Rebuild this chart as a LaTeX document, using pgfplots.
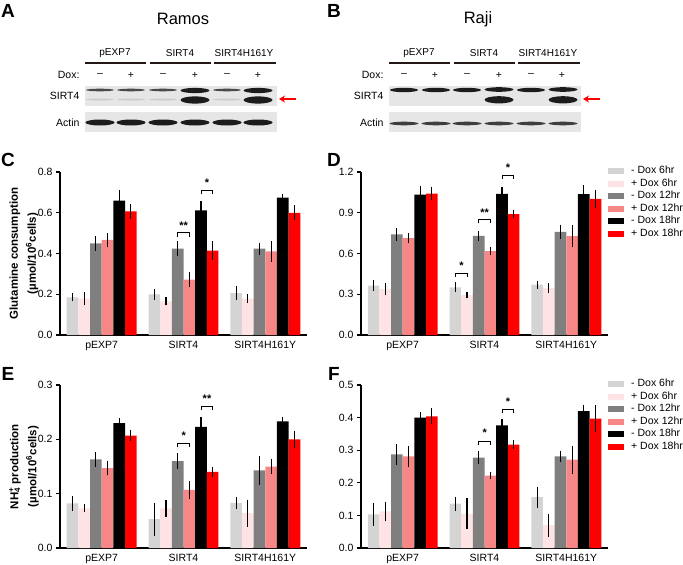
\documentclass[border=0pt]{standalone}
\usepackage{pgfplots}
\pgfplotsset{compat=1.18}
\usepackage{fontspec}
\setmainfont{Liberation Sans}
\usetikzlibrary{arrows.meta}

\definecolor{cA}{HTML}{D4D4D4}
\definecolor{cB}{HTML}{FDE3E3}
\definecolor{cC}{HTML}{7F7F7F}
\definecolor{cD}{HTML}{F78787}
\definecolor{cE}{HTML}{000000}
\definecolor{cF}{HTML}{FF0000}
\definecolor{blotbg}{HTML}{E6E6E6}
\definecolor{band}{HTML}{1C1C1C}
\definecolor{hdr}{HTML}{231815}

\newcommand{\fs}[1]{\fontsize{#1}{#1}\selectfont}

\tikzset{
 brk/.style={draw=black, line width=1.1pt},
 stars/.style={font=\bfseries\fs{11}, anchor=base, inner sep=0pt, yshift=-6pt},
}

\pgfplotsset{
 barpanel/.style={
  scale only axis, width=247pt, height=163pt,
  axis lines=left, axis line style={-, line width=1.1pt},
  xmin=-0.51, xmax=2.51, ymin=0,
  xtick={0,1,2}, xticklabels={pEXP7,SIRT4,SIRT4H161Y},
  x tick style={draw=none},
  tick align=outside, major tick length=4pt,
  y tick style={line width=1.1pt, black},
  tick label style={font=\fs{10.5}},
  xticklabel style={yshift=1pt},
  /pgf/number format/assume math mode=true,
  /pgf/number format/fixed, /pgf/number format/fixed zerofill, /pgf/number format/precision=1,
  ybar, bar width=0.1425,
  clip=false,
  every axis y label/.style={at={(axis description cs:-0.146,0.5)}, rotate=90, anchor=center},
  ylabel style={font=\bfseries\fontsize{11.5}{18}\selectfont, align=center},
  legend image code/.code={\path[##1, draw=none] (0pt,-3pt) rectangle (16pt,3pt);},
  legend style={font=\fs{10.5}, draw=none, fill=none, inner sep=0pt, row sep=0pt,
    nodes={inner sep=1pt, text height=8pt, text depth=2.5pt},
    /tikz/every odd column/.append style={column sep=6pt}},
  legend cell align=left,
 },
 errs/.style={/pgfplots/error bars/y dir=both, /pgfplots/error bars/y explicit,
   /pgfplots/error bars/error bar style={draw=black, line width=1.1pt},
   /pgfplots/error bars/error mark options={draw=black, line width=1.1pt, mark size=2.3pt}},
}

\begin{document}
\begin{tikzpicture}
\path[use as bounding box] (0,0) rectangle (683pt,-565pt);

% ---------------- blots ----------------
\begin{scope}[x=1pt, y=-1pt]
\node[font=\bfseries\fs{19}] at (8,11) {A};
\node[font=\bfseries\fs{19}] at (334,11) {B};
\node[font=\fs{16.5}] at (183,19) {Ramos};
\node[font=\fs{16.5}] at (478,19) {Raji};
\node[font=\bfseries\fs{19}] at (8,160) {C};
\node[font=\bfseries\fs{19}] at (334,160) {D};
\node[font=\bfseries\fs{19}] at (8,374) {E};
\node[font=\bfseries\fs{19}] at (334,374) {F};

\foreach \dx/\w in {0/A,304/B}{
 \begin{scope}[shift={(\dx,0)}]
  \node[font=\fs{10}] at (115,53) {pEXP7};
  \node[font=\fs{10}] at (180,53) {SIRT4};
  \node[font=\fs{10}] at (244,53) {SIRT4H161Y};
  \draw[hdr, line width=2.4pt] (85,63) -- (146,63);
  \draw[hdr, line width=2.4pt] (150,63) -- (211,63);
  \draw[hdr, line width=2.4pt] (214,63) -- (276,63);
  \node[font=\fs{10.5}, anchor=east] at (83,75) {Dox:};
  \foreach \lx/\s in {100/–,131/+,163/–,195/+,227/–,258/+}{
    \node[font=\fs{10.5}] at (\lx,75) {\s};
  }
  \fill[blotbg] (85,86) rectangle (277,106);
  \fill[blotbg] (85,112) rectangle (277,132);
  \node[font=\fs{10.5}, anchor=east] at (83,96) {SIRT4};
  \node[font=\fs{10.5}, anchor=east] at (83,123) {Actin};
  \draw[red, line width=1.3pt, -{Stealth[length=6pt, width=7pt]}] (296,99) -- (279,99);
 \end{scope}
}
% Ramos bands
\foreach \lx in {100,131,163,227}{
  \fill[band!80] (\lx,90) ellipse (14pt and 1.3pt);
  \fill[black!20] (\lx,99.5) ellipse (14pt and 1pt);
  \fill[band] (\lx,122.5) ellipse (14.5pt and 3pt);
}
\foreach \lx in {195,258}{
  \fill[band] (\lx,90.5) ellipse (14.5pt and 2.6pt);
  \fill[band] (\lx,100) ellipse (14.5pt and 3.6pt);
  \fill[band] (\lx,122.5) ellipse (14.5pt and 3pt);
}
% Raji bands
\foreach \lx in {404,436,467,531}{
  \fill[band] (\lx,90) ellipse (14pt and 2.2pt);
  \fill[band!85] (\lx,123.5) ellipse (14.5pt and 1.8pt);
}
\foreach \lx in {499,563}{
  \fill[band] (\lx,89.5) ellipse (14.5pt and 2.3pt);
  \fill[band] (\lx,99.8) ellipse (14.5pt and 3.6pt);
  \fill[band!85] (\lx,123.5) ellipse (14.5pt and 1.8pt);
}
\end{scope}

% ---------------- C ----------------
\begin{axis}[barpanel, at={(60pt,-335pt)}, anchor=south west,
  ymax=0.8, ytick={0,0.2,0.4,0.6,0.8},
  ylabel={Glutamine consumption\\(µmol/10\textsuperscript{6}cells)}]
\addplot[fill=cA, draw=none, bar shift=-0.35625, errs] table[x=x,y=y,y error=e]{
x y e
0 0.185 0.008
1 0.200 0.015
2 0.205 0.022
};
\addplot[fill=cB, draw=none, bar shift=-0.21375, errs] table[x=x,y=y,y error=e]{
x y e
0 0.178 0.020
1 0.165 0.008
2 0.178 0.010
};
\addplot[fill=cC, draw=none, bar shift=-0.07125, errs] table[x=x,y=y,y error=e]{
x y e
0 0.450 0.025
1 0.424 0.027
2 0.424 0.018
};
\addplot[fill=cD, draw=none, bar shift=0.07125, errs] table[x=x,y=y,y error=e]{
x y e
0 0.467 0.022
1 0.272 0.024
2 0.410 0.040
};
\addplot[fill=cE, draw=none, bar shift=0.21375, errs] table[x=x,y=y,y error=e]{
x y e
0 0.659 0.042
1 0.612 0.035
2 0.674 0.005
};
\addplot[fill=cF, draw=none, bar shift=0.35625, errs] table[x=x,y=y,y error=e]{
x y e
0 0.607 0.026
1 0.414 0.035
2 0.600 0.026
};
\draw[brk] (axis cs:0.93,0.48) -- (axis cs:0.93,0.503) -- (axis cs:1.075,0.503) -- (axis cs:1.075,0.48);
\node[stars] at (axis cs:1.0025,0.545) {**};
\draw[brk] (axis cs:1.215,0.69) -- (axis cs:1.215,0.708) -- (axis cs:1.36,0.708) -- (axis cs:1.36,0.69);
\node[stars] at (axis cs:1.2875,0.76) {*};
\end{axis}

% ---------------- D ----------------
\begin{axis}[barpanel, at={(361pt,-335pt)}, anchor=south west,
  ymax=1.2, ytick={0,0.3,0.6,0.9,1.2},
  legend style={at={(1.0,1.045)}, anchor=north west}]
\addplot[fill=cA, draw=none, bar shift=-0.35625, errs] table[x=x,y=y,y error=e]{
x y e
0 0.364 0.022
1 0.351 0.020
2 0.371 0.012
};
\addplot[fill=cB, draw=none, bar shift=-0.21375, errs] table[x=x,y=y,y error=e]{
x y e
0 0.337 0.028
1 0.293 0.006
2 0.347 0.018
};
\addplot[fill=cC, draw=none, bar shift=-0.07125, errs] table[x=x,y=y,y error=e]{
x y e
0 0.740 0.028
1 0.730 0.020
2 0.760 0.035
};
\addplot[fill=cD, draw=none, bar shift=0.07125, errs] table[x=x,y=y,y error=e]{
x y e
0 0.713 0.020
1 0.618 0.012
2 0.728 0.065
};
\addplot[fill=cE, draw=none, bar shift=0.21375, errs] table[x=x,y=y,y error=e]{
x y e
0 1.034 0.047
1 1.039 0.033
2 1.037 0.050
};
\addplot[fill=cF, draw=none, bar shift=0.35625, errs] table[x=x,y=y,y error=e]{
x y e
0 1.041 0.033
1 0.890 0.015
2 1.003 0.050
};
\legend{- Dox 6hr, + Dox 6hr, - Dox 12hr, + Dox 12hr, - Dox 18hr, + Dox 18hr}
\draw[brk] (axis cs:0.645,0.43) -- (axis cs:0.645,0.454) -- (axis cs:0.79,0.454) -- (axis cs:0.79,0.43);
\node[stars] at (axis cs:0.7175,0.528) {*};
\draw[brk] (axis cs:0.93,0.821) -- (axis cs:0.93,0.85) -- (axis cs:1.075,0.85) -- (axis cs:1.075,0.821);
\node[stars] at (axis cs:1.0025,0.919) {**};
\draw[brk] (axis cs:1.215,1.146) -- (axis cs:1.215,1.176) -- (axis cs:1.36,1.176) -- (axis cs:1.36,1.146);
\node[stars] at (axis cs:1.2875,1.249) {*};
\end{axis}

% ---------------- E ----------------
\begin{axis}[barpanel, at={(60pt,-548pt)}, anchor=south west,
  ymax=0.3, ytick={0,0.1,0.2,0.3},
  ylabel={NH\rlap{\textsubscript{4}}\textsuperscript{+} production\\(µmol/10\textsuperscript{6}cells)}]
\addplot[fill=cA, draw=none, bar shift=-0.35625, errs] table[x=x,y=y,y error=e]{
x y e
0 0.082 0.010
1 0.053 0.026
2 0.083 0.007
};
\addplot[fill=cB, draw=none, bar shift=-0.21375, errs] table[x=x,y=y,y error=e]{
x y e
0 0.073 0.003
1 0.073 0.012
2 0.064 0.021
};
\addplot[fill=cC, draw=none, bar shift=-0.07125, errs] table[x=x,y=y,y error=e]{
x y e
0 0.163 0.009
1 0.160 0.010
2 0.143 0.022
};
\addplot[fill=cD, draw=none, bar shift=0.07125, errs] table[x=x,y=y,y error=e]{
x y e
0 0.147 0.009
1 0.107 0.012
2 0.150 0.010
};
\addplot[fill=cE, draw=none, bar shift=0.21375, errs] table[x=x,y=y,y error=e]{
x y e
0 0.230 0.005
1 0.223 0.013
2 0.233 0.003
};
\addplot[fill=cF, draw=none, bar shift=0.35625, errs] table[x=x,y=y,y error=e]{
x y e
0 0.207 0.006
1 0.140 0.005
2 0.200 0.012
};
\draw[brk] (axis cs:0.93,0.185) -- (axis cs:0.93,0.192) -- (axis cs:1.075,0.192) -- (axis cs:1.075,0.185);
\node[stars] at (axis cs:1.0025,0.21) {*};
\draw[brk] (axis cs:1.215,0.254) -- (axis cs:1.215,0.261) -- (axis cs:1.36,0.261) -- (axis cs:1.36,0.254);
\node[stars] at (axis cs:1.2875,0.279) {**};
\end{axis}

% ---------------- F ----------------
\begin{axis}[barpanel, at={(361pt,-548pt)}, anchor=south west,
  ymax=0.5, ytick={0,0.1,0.2,0.3,0.4,0.5},
  legend style={at={(1.0,1.045)}, anchor=north west}]
\addplot[fill=cA, draw=none, bar shift=-0.35625, errs] table[x=x,y=y,y error=e]{
x y e
0 0.103 0.028
1 0.136 0.014
2 0.156 0.025
};
\addplot[fill=cB, draw=none, bar shift=-0.21375, errs] table[x=x,y=y,y error=e]{
x y e
0 0.112 0.023
1 0.105 0.040
2 0.070 0.028
};
\addplot[fill=cC, draw=none, bar shift=-0.07125, errs] table[x=x,y=y,y error=e]{
x y e
0 0.287 0.024
1 0.277 0.012
2 0.281 0.010
};
\addplot[fill=cD, draw=none, bar shift=0.07125, errs] table[x=x,y=y,y error=e]{
x y e
0 0.281 0.025
1 0.222 0.004
2 0.271 0.036
};
\addplot[fill=cE, draw=none, bar shift=0.21375, errs] table[x=x,y=y,y error=e]{
x y e
0 0.400 0.010
1 0.376 0.013
2 0.420 0.012
};
\addplot[fill=cF, draw=none, bar shift=0.35625, errs] table[x=x,y=y,y error=e]{
x y e
0 0.404 0.018
1 0.317 0.007
2 0.397 0.034
};
\legend{- Dox 6hr, + Dox 6hr, - Dox 12hr, + Dox 12hr, - Dox 18hr, + Dox 18hr}
\draw[brk] (axis cs:0.93,0.316) -- (axis cs:0.93,0.328) -- (axis cs:1.075,0.328) -- (axis cs:1.075,0.316);
\node[stars] at (axis cs:1.0025,0.359) {*};
\draw[brk] (axis cs:1.215,0.414) -- (axis cs:1.215,0.426) -- (axis cs:1.36,0.426) -- (axis cs:1.36,0.414);
\node[stars] at (axis cs:1.2875,0.456) {*};
\end{axis}
\end{tikzpicture}
\end{document}
